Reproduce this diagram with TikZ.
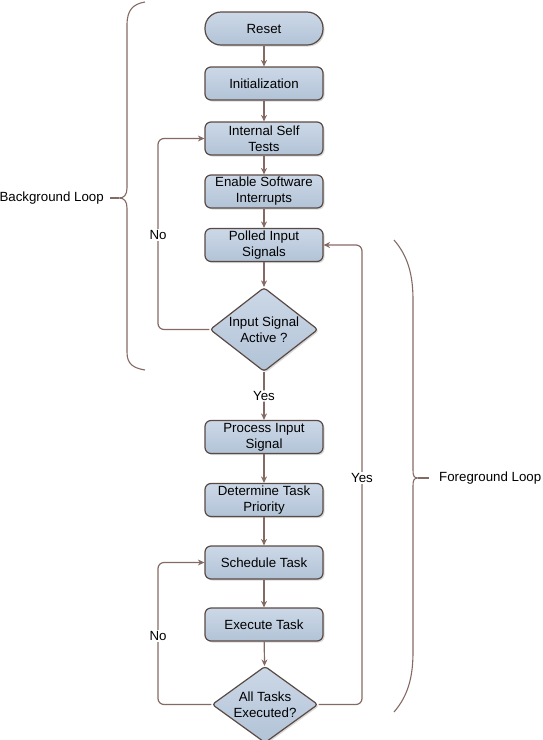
\documentclass[tikz,border=0pt]{standalone}
\usepackage{fontspec}
\setmainfont{Liberation Sans}
\usetikzlibrary{arrows.meta,shapes.geometric,shadows}
\definecolor{boxtop}{RGB}{204,216,231}
\definecolor{boxbot}{RGB}{178,195,215}
\definecolor{rimbrown}{RGB}{90,74,68}
\definecolor{linebrown}{RGB}{132,106,100}

\begin{document}
\begin{tikzpicture}[x=1pt,y=1pt,font=\fontsize{13.3}{16}\selectfont,
  box/.style={draw=rimbrown,line width=1.2pt,top color=boxtop,bottom color=boxbot,
    rounded corners=6pt,minimum width=118pt,minimum height=33pt,inner sep=2pt,align=center,
    drop shadow={shadow xshift=1.5pt,shadow yshift=-1.5pt,opacity=.3}},
  ask/.style={box,diamond,rounded corners=3pt,minimum width=108pt,minimum height=73pt,inner sep=-3pt},
  flow/.style={draw=linebrown,line width=1.2pt,rounded corners=6pt,-{Stealth[length=6.5pt,width=6pt]}},
  bracket/.style={draw=linebrown,line width=1.1pt},
  tag/.style={fill=white,inner sep=1pt}]
\useasboundingbox (0,0) rectangle (542,-740);
\node[box,rounded corners=16pt] (reset) at (264,-28.5) {Reset};
\node[box] (init) at (264,-83.5) {Initialization};
\node[box] (selftest) at (264,-138.5) {Internal Self\\Tests};
\node[box] (enable) at (264,-191.5) {Enable Software\\Interrupts};
\node[box] (polled) at (264,-245) {Polled Input\\Signals};
\node[ask] (active) at (264,-329.5) {Input Signal\\Active ?};
\node[box] (process) at (264,-437) {Process Input\\Signal};
\node[box] (priority) at (264,-500) {Determine Task\\Priority};
\node[box] (schedule) at (264,-562.5) {Schedule Task};
\node[box] (execute) at (264,-624.5) {Execute Task};
\node[ask,minimum width=106pt,minimum height=65pt] (alldone) at (265,-704.5) {All Tasks\\Executed?};
\draw[flow] (reset) -- (init);
\draw[flow] (init) -- (selftest);
\draw[flow] (selftest) -- (enable);
\draw[flow] (enable) -- (polled);
\draw[flow] (polled) -- (active);
\draw[flow] (active) -- node[tag] {Yes} (process);
\draw[flow] (process) -- (priority);
\draw[flow] (priority) -- (schedule);
\draw[flow] (schedule) -- (execute);
\draw[flow] (execute) -- (alldone); % main line
\coordinate (nobg) at (158,-235);
\coordinate (nofg) at (158,-636);
\coordinate (yesfg) at (362,-478);
\draw[flow] (active.west) -| (nobg) |- (selftest.west);
\draw[flow] (alldone.west) -| (nofg) |- (schedule.west);
\draw[flow] (alldone.east) -| (yesfg) |- (polled.east); % loops back
\node[tag] at (nobg) {No};
\node[tag] at (nofg) {No};
\node[tag] at (yesfg) {Yes};
\coordinate (bgtip) at (119,-198);
\coordinate (fgtip) at (418,-478);
\draw[bracket] (145,-2) .. controls (133,-4) and (127,-10) .. (127,-25) -- (127,-188)
  .. controls (127,-195) and (124,-198) .. (bgtip)
  .. controls (124,-198) and (127,-201) .. (127,-208) -- (127,-352)
  .. controls (127,-364) and (133,-368) .. (145,-370);
\draw[bracket] (394,-240) .. controls (408,-256) and (413,-275) .. (413,-300) -- (413,-470)
  .. controls (413,-476) and (414,-478) .. (fgtip)
  .. controls (414,-478) and (413,-480) .. (413,-486) -- (413,-652)
  .. controls (413,-677) and (408,-696) .. (394,-712); % braces
\node[anchor=east,inner sep=0pt] (bgloop) at (104,-198) {Background Loop};
\node[anchor=west,inner sep=0pt] (fgloop) at (439,-478) {Foreground Loop};
\draw[bracket,shorten >=6pt] (bgtip) -- (bgloop.east);
\draw[bracket,shorten >=10pt] (fgtip) -- (fgloop.west);
\end{tikzpicture}
\end{document}
